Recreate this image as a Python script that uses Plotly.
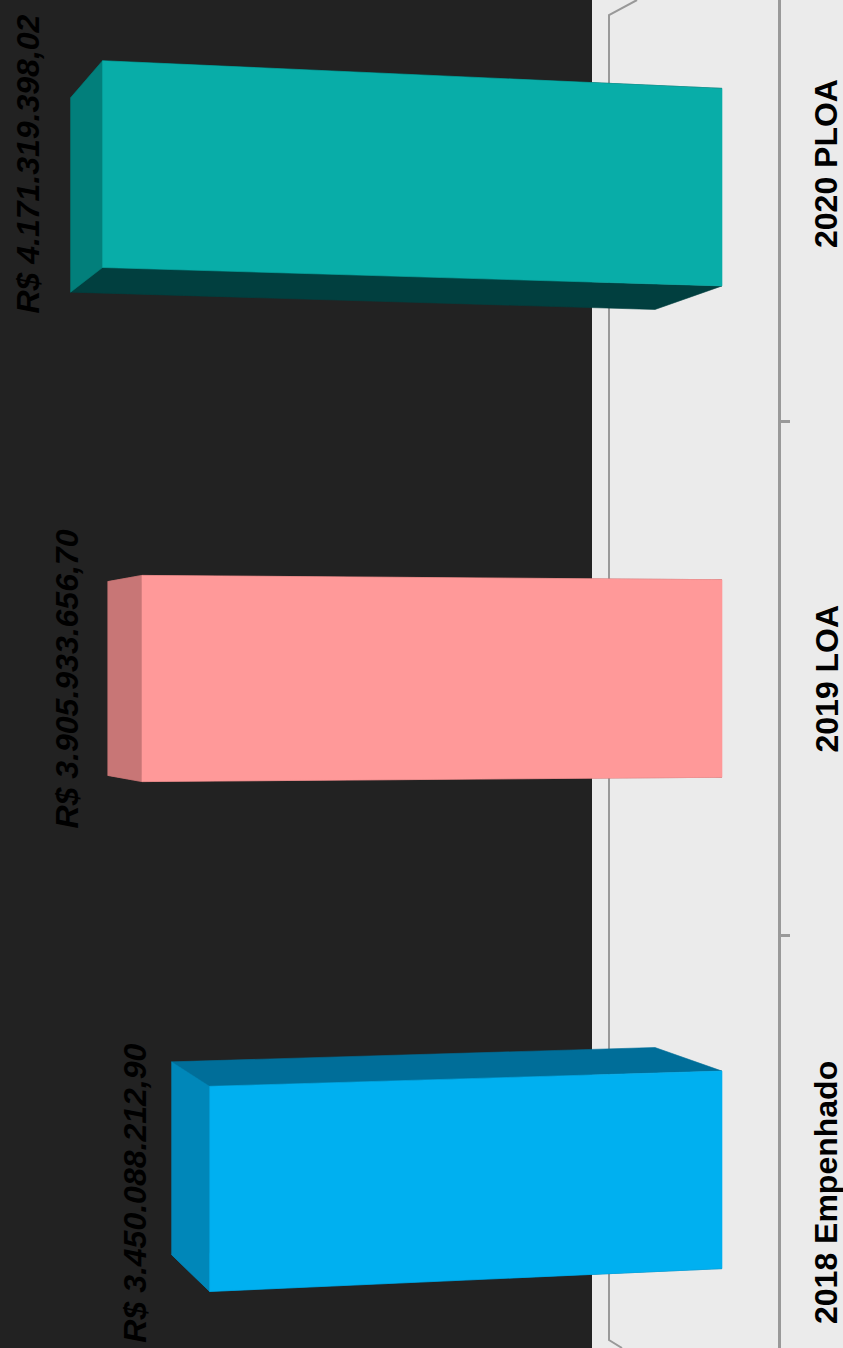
import plotly.graph_objects as go

# ---------------- data ----------------
categories = ["2018 Empenhado", "2019 LOA", "2020 PLOA"]
values = [3450088212.90, 3905933656.70, 4171319398.02]
value_labels = ["R$ 3.450.088.212,90", "R$ 3.905.933.656,70", "R$ 4.171.319.398,02"]

# ---------------- styles ----------------
front_colors = ["#00B0F0", "#FF9999", "#08ADA8"]
end_colors = ["#0087B9", "#C87676", "#027F7B"]
side_colors = ["#006E99", "#A86060", "#013F3F"]

W, H = 843, 1348
PLOT_W = 778                      # plot area width in px (axis line on its right edge)
BASE_PX = 722                     # pixel where value 0 sits
SCALE = 148.5 / 1e9               # px per unit of value
CAT_STEP = 514.5                  # px per category
CENTER_PX = 678.5                 # px of middle category
HALF = 0.201                      # half bar thickness (category units)
BACK = 0.94                       # perspective shrink of the back plane
S0, S1 = 0.955, 0.045             # perspective along the value axis

x_left = BASE_PX / SCALE
x_right = -(PLOT_W - BASE_PX) / SCALE
y_bottom = 1 - (H - CENTER_PX) / CAT_STEP
y_top = 1 + CENTER_PX / CAT_STEP
vmax_ref = 4.19e9


def s(v):
    return S0 + S1 * v / vmax_ref


def depth(v):
    return (67 - 8.4 * v / 1e9) / SCALE


def proj(i, v, off, z):
    x = v + z * depth(v)
    y = 1 + (i + off - 1) * s(v) * (BACK if z else 1.0)
    return x, y


def poly(pts):
    xs = [p[0] for p in pts] + [pts[0][0]]
    ys = [p[1] for p in pts] + [pts[0][1]]
    return xs, ys


fig = go.Figure()

for i, (cat, v) in enumerate(zip(categories, values)):
    faces = []
    # side faces (hidden ones get covered by the front face)
    for off in (HALF, -HALF):
        faces.append(([proj(i, 0, off, 0), proj(i, v, off, 0),
                       proj(i, v, off, 1), proj(i, 0, off, 1)], side_colors[i]))
    # end (top of column)
    faces.append(([proj(i, v, -HALF, 0), proj(i, v, HALF, 0),
                   proj(i, v, HALF, 1), proj(i, v, -HALF, 1)], end_colors[i]))
    # front
    faces.append(([proj(i, v, -HALF, 0), proj(i, v, HALF, 0),
                   proj(i, 0, HALF, 0), proj(i, 0, -HALF, 0)], front_colors[i]))
    for pts, col in faces:
        xs, ys = poly(pts)
        fig.add_trace(go.Scatter(x=xs, y=ys, mode="lines", fill="toself",
                                 fillcolor=col, line=dict(color=col, width=0.6),
                                 hoverinfo="skip", showlegend=False, name=cat))

FONT = "Liberation Sans, Arial, Helvetica, sans-serif"

# value labels
for i, (v, lab) in enumerate(zip(values, value_labels)):
    fig.add_annotation(x=v, y=i, xref="x", yref="y", text=lab, showarrow=False,
                       textangle=-90, xanchor="center", yanchor="middle", xshift=-75,
                       font=dict(family=FONT, size=32,
                                 color="#000000", weight="bold", style="italic"))

# category labels
for i, cat in enumerate(categories):
    fig.add_annotation(x=826 / PLOT_W, y=i, xref="paper", yref="y", text=cat,
                       showarrow=False, textangle=-90, xanchor="center", yanchor="middle",
                       font=dict(family=FONT, size=32, color="#000000", weight="bold"))

# background shapes
fig.add_shape(type="rect", xref="paper", yref="paper", x0=0, x1=592 / PLOT_W, y0=0, y1=1,
              fillcolor="#222222", line=dict(width=0), layer="below")


def pp(x, y):
    return f"{x / PLOT_W:.5f},{1 - y / H:.5f}"


fig.add_shape(type="path", xref="paper", yref="paper",
              path=f"M {pp(637, 0)} L {pp(609, 15)} L {pp(609, 1340)} L {pp(622, 1348)}",
              line=dict(color="#999999", width=2), layer="below")

fig.update_layout(
    width=W, height=H,
    margin=dict(l=0, r=W - PLOT_W, t=0, b=0),
    paper_bgcolor="#EBEBEB",
    plot_bgcolor="rgba(0,0,0,0)",
    showlegend=False,
    xaxis=dict(range=[x_left, x_right], visible=False, fixedrange=True),
    yaxis=dict(range=[y_bottom, y_top], side="right", showgrid=False, zeroline=False,
               showline=True, linecolor="#999999", linewidth=3,
               tickvals=[0, 1, 2], ticktext=["", "", ""], ticks="",
               minor=dict(tickvals=[0.5, 1.5], ticks="outside", ticklen=9,
                          tickwidth=3, tickcolor="#999999", showgrid=False),
               fixedrange=True),
)

fig.write_html("out.html", config={"displayModeBar": False},
               post_script="document.body.style.margin='0';"
                           "document.body.style.background='#EBEBEB';")
